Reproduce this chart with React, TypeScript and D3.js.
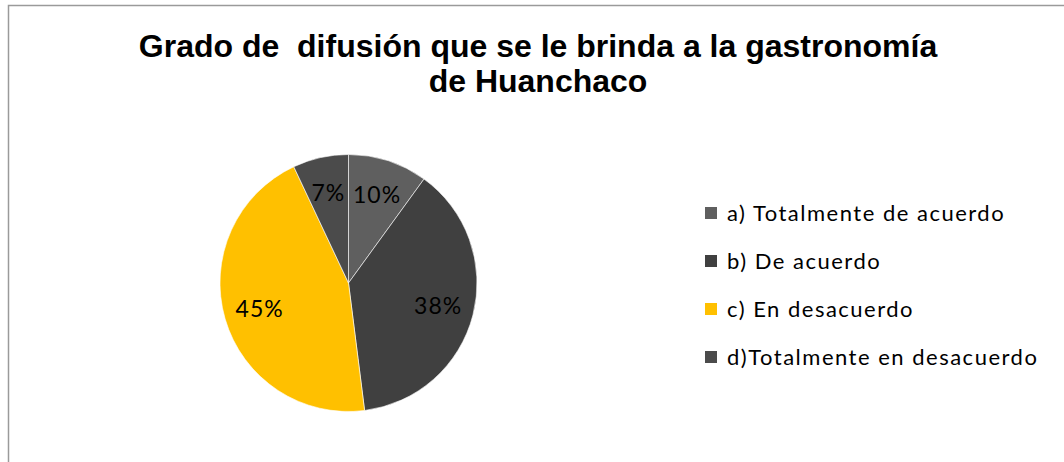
import React, { useEffect, useRef } from 'react';
import * as d3 from 'd3';

const titleLines = ['Grado de  difusión que se le brinda a la gastronomía', 'de Huanchaco'];
const categories = [
  'a) Totalmente de acuerdo',
  'b) De acuerdo',
  'c) En desacuerdo',
  'd)Totalmente en desacuerdo',
];
const values = [10, 38, 45, 7];
const colors = ['#5f5f5f', '#404040', '#ffc000', '#4b4b4b'];

const W = 1064;
const H = 462;

const App = () => {
  const ref = useRef<SVGSVGElement>(null);

  useEffect(() => {
    if (!ref.current) return;
    const svg = d3.select(ref.current);
    svg.selectAll('*').remove();

    // chart frame (runs off the right and bottom of the picture)
    svg.append('rect')
      .attr('x', 8.5).attr('y', 5.5)
      .attr('width', W + 20).attr('height', H + 20)
      .attr('fill', '#fff')
      .attr('stroke', '#9a9a9a')
      .attr('stroke-width', 1.5);

    // title
    svg.append('g')
      .selectAll('text')
      .data(titleLines)
      .join('text')
      .attr('x', 538)
      .attr('y', (d, i) => 57 + i * 35)
      .attr('text-anchor', 'middle')
      .attr('font-family', '"Liberation Sans", Arial, sans-serif')
      .attr('font-weight', 'bold')
      .attr('font-size', 32)
      .attr('fill', '#000')
      .style('white-space', 'pre')
      .text(d => d);

    // pie
    const cx = 348.5, cy = 283, r = 128.5;
    const pie = d3.pie<number>().sort(null).value(d => d);
    const arcs = pie(values);
    const arc = d3.arc<d3.PieArcDatum<number>>().innerRadius(0).outerRadius(r);
    const labelArc = d3.arc<d3.PieArcDatum<number>>().innerRadius(r * 0.72).outerRadius(r * 0.72);
    const total = d3.sum(values);

    const g = svg.append('g').attr('transform', `translate(${cx},${cy})`);
    g.selectAll('path')
      .data(arcs)
      .join('path')
      .attr('d', arc)
      .attr('fill', (d, i) => colors[i])
      .attr('stroke', '#fff')
      .attr('stroke-width', 0.6);

    g.selectAll('text')
      .data(arcs)
      .join('text')
      .attr('transform', d => `translate(${labelArc.centroid(d)})`)
      .attr('text-anchor', 'middle')
      .attr('dy', '0.35em')
      .attr('font-family', 'Lato, "Open Sans", sans-serif')
      .attr('font-size', 23)
      .attr('letter-spacing', 1)
      .attr('fill', '#000')
      .text(d => `${Math.round((d.data / total) * 100)}%`);

    // legend
    const ly = d3.scalePoint<string>().domain(categories).range([213, 357]);
    const legend = svg.append('g')
      .selectAll('g')
      .data(categories)
      .join('g')
      .attr('transform', d => `translate(705,${ly(d)})`);
    legend.append('rect')
      .attr('x', 0).attr('y', -6)
      .attr('width', 12).attr('height', 12)
      .attr('fill', (d, i) => colors[i]);
    legend.append('text')
      .attr('x', 22)
      .attr('dy', '0.35em')
      .attr('font-family', 'Lato, "Open Sans", sans-serif')
      .attr('font-size', 22)
      .attr('letter-spacing', 1.5)
      .attr('fill', '#000')
      .text(d => d);
  }, []);

  return (
    <svg ref={ref} width={W} height={H} style={{ position: 'absolute', left: 0, top: 0 }} />
  );
};

export default App;
